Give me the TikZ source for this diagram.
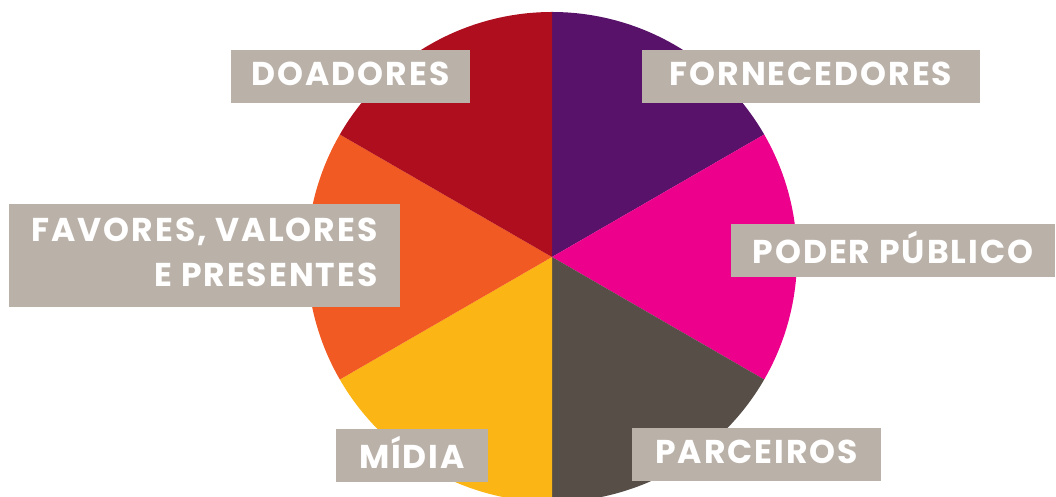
\documentclass[tikz,border=0pt]{standalone}
\usepackage{fontspec}
\setmainfont{Poppins}
\newfontfamily\lblfont[LetterSpace=6]{Poppins}
\definecolor{fornec}{HTML}{58126A}
\definecolor{poder}{HTML}{EC008C}
\definecolor{parc}{HTML}{574E47}
\definecolor{midia}{HTML}{FBB615}
\definecolor{favor}{HTML}{F15A22}
\definecolor{doad}{HTML}{AE0E1D}
\definecolor{lblgray}{HTML}{BAB1A8}
\tikzset{lbl/.style={fill=lblgray, text=white, font=\lblfont\bfseries\fontsize{33}{45}\selectfont, inner sep=0pt, text depth=6pt, minimum height=53pt}}

\begin{document}
\begin{tikzpicture}[x=1pt,y=1pt]
  \useasboundingbox (0,0) rectangle (1056,497);
  \foreach \a/\c in {90/fornec, 30/poder, -30/parc, -90/midia, -150/favor, 150/doad} {
    \fill[\c] (552,240) -- ++(\a:245pt) arc (\a:\a-60:245pt) -- cycle;
  };

  \node[lbl, minimum width=239pt] (doadores) at (350.5,420.5) {DOADORES};
  \node[lbl, minimum width=338pt] (fornecedores) at (811,420.5) {FORNECEDORES};
  \node[lbl, minimum width=391pt, minimum height=103pt, align=right] (favores) at (204.5,241.5) {FAVORES, VALORES\\E PRESENTES};
  \node[lbl, minimum width=324pt] (poder) at (893,246.5) {PODER PÚBLICO};
  \node[lbl, minimum width=152pt] (midia) at (412,41.5) {MÍDIA};
  \node[lbl, minimum width=249pt] (parceiros) at (756.5,42.5) {PARCEIROS};
\end{tikzpicture}
\end{document}
